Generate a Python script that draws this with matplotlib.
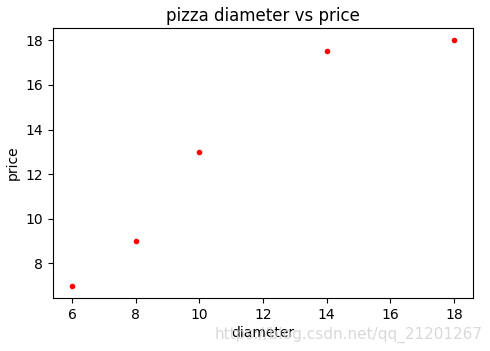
import matplotlib
matplotlib.use("Agg")
import matplotlib.pyplot as plt

diameter = [6, 8, 10, 14, 18]
price = [7, 9, 13, 17.5, 18]

fig = plt.figure(figsize=(4.9, 3.51), dpi=100)
ax = fig.add_axes([53/490, 1 - 298/351, (473-53)/490, (298-28)/351])
ax.plot(diameter, price, 'r.', markersize=6)
ax.set_title('pizza diameter vs price', fontsize=12, pad=5)
ax.set_xlabel('diameter', fontsize=10, labelpad=3)
ax.set_ylabel('price', fontsize=10)
ax.tick_params(labelsize=10)
ax.set_xticks([6, 8, 10, 12, 14, 16, 18])
ax.set_yticks([8, 10, 12, 14, 16, 18])
fig.text(0.985, 0.045, 'https://blog.csdn.net/qq_21201267', ha='right', va='center',
         fontsize=11, color='#d0d0d0', alpha=0.8)
fig.savefig('out.png', dpi=100)
